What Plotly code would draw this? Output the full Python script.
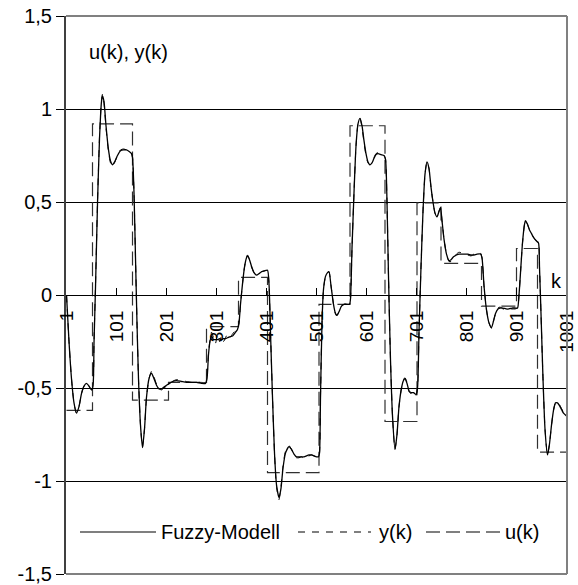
import plotly.graph_objects as go

# ---------------- data ----------------
k_samples = [
    1, 6, 11, 16, 21, 26, 31, 36, 41, 46,
    51, 54, 56, 59, 63, 67, 71, 73, 76, 80,
    85, 89, 93, 97, 103, 109, 115, 121, 127, 131,
    133, 136, 139, 142, 145, 149, 153, 157, 161, 166,
    171, 176, 181, 186, 191, 196, 201, 207, 213, 221,
    231, 241, 251, 261, 271, 279, 282, 285, 288, 291,
    295, 299, 303, 307, 311, 315, 319, 323, 327, 333,
    339, 343, 346, 349, 353, 357, 361, 363, 367, 371,
    376, 381, 386, 391, 397, 403, 406, 409, 413, 417,
    421, 426, 430, 434, 439, 446, 451, 456, 461, 466,
    471, 476, 481, 486, 491, 496, 501, 505, 507, 509,
    512, 515, 519, 523, 526, 530, 535, 539, 542, 546,
    551, 556, 561, 567, 569, 572, 576, 580, 584, 588,
    592, 596, 600, 604, 608, 612, 616, 620, 624, 630,
    636, 639, 642, 645, 649, 653, 658, 662, 666, 671,
    675, 678, 682, 686, 690, 695, 700, 703, 706, 710,
    714, 718, 722, 726, 730, 734, 738, 742, 746, 749,
    752, 756, 761, 766, 770, 775, 781, 786, 792, 798,
    804, 810, 816, 822, 829, 832, 836, 841, 846, 851,
    855, 859, 864, 868, 874, 880, 886, 892, 898, 903,
    906, 909, 913, 917, 919, 923, 927, 931, 935, 941,
    945, 947, 950, 954, 958, 963, 967, 971, 975, 979,
    983, 987, 991, 995, 1001,
]

y_measured = [
    0.0, -0.25, -0.45, -0.58, -0.635, -0.60, -0.53, -0.49, -0.475, -0.49,
    -0.51, -0.49, -0.25, 0.05, 0.50, 0.85, 1.05, 1.08, 1.03, 0.90,
    0.77, 0.71, 0.69, 0.71, 0.75, 0.78, 0.785, 0.78, 0.77, 0.76,
    0.74, 0.55, 0.20, -0.15, -0.45, -0.70, -0.82, -0.72, -0.55, -0.45,
    -0.41, -0.44, -0.48, -0.505, -0.51, -0.50, -0.49, -0.48, -0.465, -0.455,
    -0.46, -0.465, -0.47, -0.47, -0.47, -0.47, -0.44, -0.31, -0.24, -0.20,
    -0.23, -0.26, -0.21, -0.25, -0.22, -0.25, -0.23, -0.21, -0.23, -0.21,
    -0.19, -0.18, -0.15, -0.05, 0.06, 0.15, 0.205, 0.215, 0.19, 0.15,
    0.12, 0.107, 0.115, 0.125, 0.13, 0.133, 0.06, -0.20, -0.55, -0.85,
    -1.03, -1.10, -1.03, -0.92, -0.84, -0.81, -0.83, -0.86, -0.875, -0.875,
    -0.87, -0.88, -0.87, -0.865, -0.86, -0.865, -0.87, -0.87, -0.85, -0.55,
    -0.15, 0.03, 0.10, 0.12, 0.125, 0.05, -0.05, -0.10, -0.11, -0.09,
    -0.06, -0.05, -0.05, -0.05, -0.02, 0.25, 0.55, 0.80, 0.92, 0.95,
    0.90, 0.82, 0.75, 0.71, 0.70, 0.715, 0.74, 0.76, 0.765, 0.76,
    0.75, 0.73, 0.50, 0.10, -0.35, -0.65, -0.83, -0.75, -0.60, -0.50,
    -0.455, -0.445, -0.47, -0.52, -0.53, -0.52, -0.54, -0.50, -0.20, 0.15,
    0.45, 0.65, 0.715, 0.68, 0.58, 0.50, 0.44, 0.42, 0.45, 0.47,
    0.40, 0.30, 0.22, 0.18, 0.18, 0.20, 0.22, 0.23, 0.225, 0.22,
    0.215, 0.21, 0.22, 0.215, 0.225, 0.20, 0.05, -0.08, -0.15, -0.18,
    -0.14, -0.10, -0.07, -0.065, -0.075, -0.08, -0.075, -0.075, -0.075, -0.07,
    0.00, 0.12, 0.28, 0.38, 0.40, 0.38, 0.35, 0.33, 0.31, 0.29,
    0.28, 0.15, -0.10, -0.45, -0.72, -0.86, -0.80, -0.70, -0.62, -0.58,
    -0.575, -0.59, -0.61, -0.63, -0.645,
]

y_fuzzy = [
    0.0, -0.25, -0.45, -0.58, -0.635, -0.60, -0.53, -0.49, -0.475, -0.49,
    -0.51, -0.49, -0.26, 0.04, 0.49, 0.84, 1.04, 1.07, 1.04, 0.91,
    0.78, 0.72, 0.70, 0.715, 0.75, 0.775, 0.78, 0.78, 0.77, 0.76,
    0.74, 0.55, 0.20, -0.15, -0.45, -0.70, -0.82, -0.72, -0.55, -0.45,
    -0.42, -0.45, -0.485, -0.505, -0.505, -0.495, -0.485, -0.475, -0.465, -0.46,
    -0.465, -0.47, -0.47, -0.47, -0.475, -0.475, -0.45, -0.32, -0.25, -0.22,
    -0.24, -0.24, -0.24, -0.235, -0.24, -0.235, -0.235, -0.23, -0.225, -0.22,
    -0.20, -0.185, -0.15, -0.05, 0.06, 0.15, 0.20, 0.21, 0.19, 0.155,
    0.12, 0.107, 0.115, 0.125, 0.13, 0.133, 0.06, -0.20, -0.55, -0.85,
    -1.02, -1.09, -1.04, -0.93, -0.85, -0.815, -0.83, -0.855, -0.87, -0.87,
    -0.87, -0.87, -0.865, -0.86, -0.86, -0.865, -0.87, -0.87, -0.85, -0.55,
    -0.15, 0.03, 0.10, 0.12, 0.125, 0.05, -0.05, -0.10, -0.11, -0.09,
    -0.06, -0.05, -0.05, -0.05, -0.02, 0.25, 0.55, 0.80, 0.92, 0.95,
    0.91, 0.83, 0.76, 0.715, 0.70, 0.71, 0.735, 0.755, 0.76, 0.755,
    0.75, 0.73, 0.50, 0.10, -0.35, -0.65, -0.83, -0.75, -0.60, -0.50,
    -0.46, -0.45, -0.475, -0.515, -0.525, -0.525, -0.535, -0.50, -0.20, 0.15,
    0.45, 0.65, 0.715, 0.68, 0.58, 0.50, 0.44, 0.42, 0.45, 0.47,
    0.40, 0.30, 0.22, 0.185, 0.19, 0.205, 0.215, 0.22, 0.22, 0.22,
    0.22, 0.215, 0.215, 0.22, 0.22, 0.20, 0.05, -0.08, -0.15, -0.175,
    -0.14, -0.10, -0.075, -0.07, -0.07, -0.075, -0.075, -0.07, -0.07, -0.07,
    0.00, 0.12, 0.28, 0.38, 0.40, 0.38, 0.35, 0.33, 0.31, 0.29,
    0.28, 0.15, -0.10, -0.45, -0.72, -0.86, -0.80, -0.70, -0.62, -0.58,
    -0.58, -0.595, -0.615, -0.635, -0.65,
]

# input step signal u(k): start index of each step and its level
u_steps_k = [1, 53, 133, 205, 281, 345, 403, 506, 568, 638, 702, 750, 831, 901, 943, 1001]
u_levels = [-0.62, 0.92, -0.565, -0.47, -0.17, 0.095, -0.955, -0.05, 0.91, -0.68,
            0.495, 0.17, -0.06, 0.25, -0.845, -0.845]

x_tick_vals = [1, 101, 201, 301, 401, 501, 601, 701, 801, 901, 1001]
x_tick_text = ["1", "101", "201", "301", "401", "501", "601", "701", "801", "901", "1001"]
y_tick_vals = [-1.5, -1.0, -0.5, 0.0, 0.5, 1.0, 1.5]
y_tick_text = ["-1,5", "-1", "-0,5", "0", "0,5", "1", "1,5"]

series_names = ["Fuzzy-Modell", "y(k)", "u(k)"]

assert len(k_samples) == len(y_measured) == len(y_fuzzy)

# ---------------- figure ----------------
FONT = "Liberation Sans, Arial, Helvetica, sans-serif"
DASH_Y = "7px,7px"
DASH_U = "14px,6px"

fig = go.Figure()
fig.add_trace(go.Scatter(
    x=u_steps_k, y=u_levels, name=series_names[2], mode="lines",
    line=dict(color="#303030", width=1.2, dash=DASH_U, shape="hv"),
))
fig.add_trace(go.Scatter(
    x=k_samples, y=y_measured, name=series_names[1], mode="lines",
    line=dict(color="black", width=1.0, dash=DASH_Y, shape="spline", smoothing=0.6),
))
fig.add_trace(go.Scatter(
    x=k_samples, y=y_fuzzy, name=series_names[0], mode="lines",
    line=dict(color="black", width=1.3, shape="spline", smoothing=0.6),
))

# plot area in pixels: left 66, right 567, top 16, bottom 574
L, R, T, B = 66, 567, 16, 574
W, H = R - L, B - T


def px(xp):
    return (xp - L) / W


def py(yp):
    return (B - yp) / H


shapes = []
# grey frame (top, right, bottom)
for (x0, y0, x1, y1) in [(0, 1, 1, 1), (1, 0, 1, 1), (0, 0, 1, 0)]:
    shapes.append(dict(type="line", xref="paper", yref="paper", x0=x0, y0=y0, x1=x1, y1=y1,
                       line=dict(color="#808080", width=2), layer="above"))

# legend drawn inside the plot area at the bottom
leg_y = py(532)
legend_items = [
    (series_names[0], 80, 156, "solid", 159),
    (series_names[1], 298, 371, DASH_Y, 377),
    (series_names[2], 426, 505, DASH_U, 503),
]
annotations = []
for name, xa, xb, dash, xt in legend_items:
    shapes.append(dict(type="line", xref="paper", yref="paper", x0=px(xa), x1=px(xb),
                       y0=leg_y, y1=leg_y, line=dict(color="black", width=1.1, dash=dash)))
    annotations.append(dict(text=name, xref="paper", yref="paper", x=px(xt), y=leg_y,
                            xanchor="left", yanchor="middle", showarrow=False,
                            font=dict(size=20, color="black", family=FONT)))

annotations.append(dict(text="u(k), y(k)", xref="paper", yref="paper", x=px(87), y=py(52),
                        xanchor="left", yanchor="middle", showarrow=False,
                        font=dict(size=20, color="black", family=FONT)))
annotations.append(dict(text="k", xref="paper", yref="paper", x=px(556), y=py(281),
                        xanchor="center", yanchor="middle", showarrow=False,
                        font=dict(size=20, color="black", family=FONT)))

fig.update_layout(
    width=578, height=585,
    margin=dict(l=L, r=578 - R, t=T, b=585 - B, pad=0, autoexpand=False),
    paper_bgcolor="white", plot_bgcolor="white",
    font=dict(family=FONT, size=20, color="black"),
    showlegend=False,
    shapes=shapes,
    annotations=annotations,
    xaxis=dict(
        range=[0, 1002], anchor="free", position=0.5, automargin=False,
        showgrid=False, zeroline=False,
        showline=True, linecolor="black", linewidth=1,
        tickmode="array", tickvals=x_tick_vals, ticktext=x_tick_text,
        ticks="inside", ticklen=7, tickcolor="black", tickwidth=1,
        tickangle=-90, tickfont=dict(size=19, family=FONT, color="black"),
        ticklabelstandoff=7,
    ),
    yaxis=dict(
        range=[-1.5, 1.5], domain=[0, 1], automargin=False,
        tickmode="array", tickvals=y_tick_vals, ticktext=y_tick_text,
        showgrid=True, gridcolor="black", gridwidth=1,
        zeroline=False,
        showline=True, linecolor="#404040", linewidth=2,
        ticks="outside", ticklen=8, tickcolor="black", tickwidth=1,
        tickfont=dict(size=20, family=FONT, color="black"),
    ),
)

fig.write_html("out.html", config={"displayModeBar": False},
               post_script="document.body.style.margin='0px';")
